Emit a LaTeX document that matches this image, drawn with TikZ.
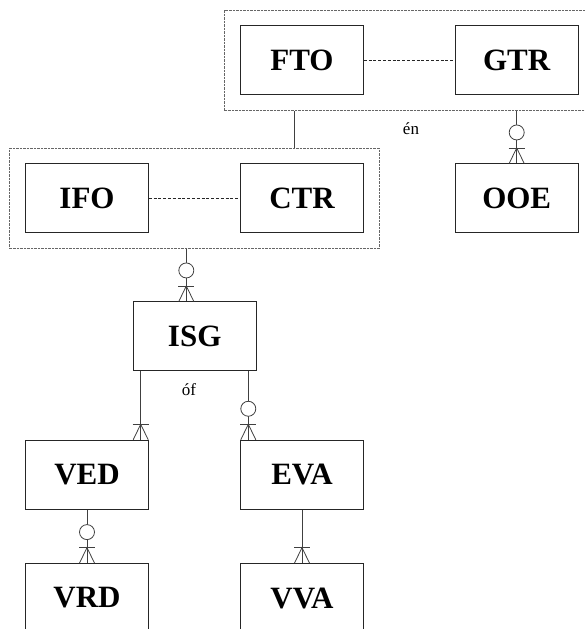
\documentclass[tikz,border=0pt]{standalone}
\usepackage{fontspec}
\setmainfont{Liberation Serif}
\usetikzlibrary{fit,calc}
\tikzset{
  entity/.style={draw=black!85, line width=0.8pt, minimum width=122.6pt, minimum height=69pt,
    inner sep=0pt, font=\bfseries\fontsize{31}{31}\selectfont},
  group/.style={draw=black!60, line width=0.8pt, dash pattern=on 0.8pt off 0.6pt, inner sep=15.5pt},
  link/.style={draw=black!75, line width=0.8pt},
  partlink/.style={draw=black!85, line width=0.8pt, dash pattern=on 3pt off 1.8pt},
  lbl/.style={font=\fontsize{17}{17}\selectfont, anchor=base, inner sep=0pt}
}
\newcommand{\crowend}[1]{%
  \draw[link] ($(#1)+(-7.5,0)$) -- ($(#1)+(0,-15.5)$) -- ($(#1)+(7.5,0)$);
  \draw[link] ($(#1)+(-8,-15.5)$) -- ($(#1)+(8,-15.5)$);}
\newcommand{\optend}[1]{%
  \draw[link, fill=white] ($(#1)+(0,-31)$) circle[radius=7.5pt];}
\begin{document}
\begin{tikzpicture}[x=1pt,y=-1pt]
\useasboundingbox (0,0) rectangle (584,629);
\node[entity] (FTO) at (302,60.35) {FTO};
\node[entity] (GTR) at (516.7,60.35) {GTR};
\node[entity] (IFO) at (87,198.35) {IFO};
\node[entity] (CTR) at (302,198.35) {CTR};
\node[entity] (OOE) at (516.7,198.35) {OOE};
\node[entity] (ISG) at (194.7,336.35) {ISG};
\node[entity] (VED) at (87,474.65) {VED};
\node[entity] (EVA) at (302,474.65) {EVA};
\node[entity] (VRD) at (87,598) {VRD};
\node[entity] (VVA) at (302,598) {VVA};
\node[group, fit=(FTO)(GTR)] (G1) {};
\node[group, fit=(IFO)(CTR)] (G2) {};
\draw[partlink] (FTO) -- (GTR);
\draw[partlink] (IFO) -- (CTR);
% connector x positions
\coordinate (xa) at (294,0);
\coordinate (xb) at (516.7,0);
\coordinate (xc) at (186.3,0);
\coordinate (xd) at (140.7,0);
\coordinate (xe) at (248.3,0);
\coordinate (xf) at (87,0);
\coordinate (xg) at (302,0);
\coordinate (ta) at (G2.north -| xa);
\coordinate (tb) at (OOE.north -| xb);
\coordinate (tc) at (ISG.north -| xc);
\coordinate (td) at (VED.north -| xd);
\coordinate (te) at (EVA.north -| xe);
\coordinate (tf) at (VRD.north -| xf);
\coordinate (tg) at (VVA.north -| xg);
\draw[link] (G1.south -| xa) -- (ta);
\draw[link] (G1.south -| xb) -- (tb);
\draw[link] (G2.south -| xc) -- (tc);
\draw[link] (ISG.south -| xd) -- (td);
\draw[link] (ISG.south -| xe) -- (te);
\draw[link] (VED.south -| xf) -- (tf);
\draw[link] (EVA.south -| xg) -- (tg);
\crowend{tb}\optend{tb}
\crowend{tc}\optend{tc}
\crowend{td}
\crowend{te}\optend{te}
\crowend{tf}\optend{tf}
\crowend{tg}
\node[lbl] (en) at (411,134) {én};
\node[lbl] (of) at (189,395.7) {óf};
\end{tikzpicture}
\end{document}
